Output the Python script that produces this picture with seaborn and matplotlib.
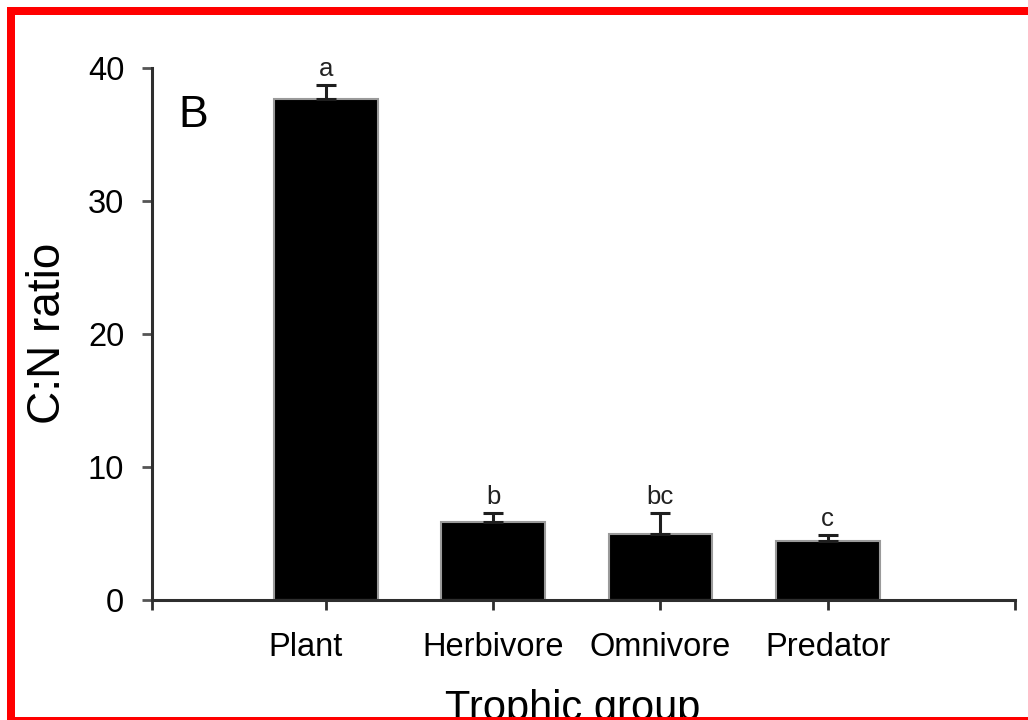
import numpy as np
import pandas as pd
import matplotlib
matplotlib.use("Agg")
import matplotlib.pyplot as plt
from matplotlib.patches import Rectangle
from matplotlib.transforms import ScaledTranslation
import seaborn as sns

# Carbon:nitrogen ratio by trophic group (mean and upper standard error)
groups = ["Plant", "Herbivore", "Omnivore", "Predator"]
cn_mean = [37.7, 5.8, 4.9, 4.4]
cn_se = [1.0, 0.7, 1.6, 0.45]
letters = ["a", "b", "bc", "c"]
y_ticks = [0, 10, 20, 30, 40]

sns.set_theme(style="ticks")
plt.rcParams["font.family"] = ["Liberation Sans", "DejaVu Sans"]

W, H = 1028, 720
fig = plt.figure(figsize=(W / 100, H / 100), dpi=100)
fig.patch.set_facecolor("white")

ax_left, ax_right, ax_bottom, ax_top = 152, 1015, 599.5, 68
ax = fig.add_axes([ax_left / W, 1 - ax_bottom / H,
                   (ax_right - ax_left) / W, (ax_bottom - ax_top) / H])
ax.set_facecolor("white")

df = pd.DataFrame({"group": groups, "cn": cn_mean})
sns.barplot(data=df, x="group", y="cn", order=groups, color="black",
            saturation=1, width=0.62, errorbar=None, ax=ax,
            edgecolor="#9a9a9a", linewidth=1.5, zorder=2)

pos = np.arange(len(groups))
ax.errorbar(pos, cn_mean, yerr=[np.zeros(len(groups)), cn_se], fmt="none",
            ecolor="#1e1e1e", elinewidth=2.2, capsize=7.5, capthick=2.2,
            zorder=3)

# Significance letters above each error bar
for x, m, s, lab in zip(pos, cn_mean, cn_se, letters):
    ax.annotate(lab, (x, m + s), xytext=(0, 3), textcoords="offset points",
                ha="center", va="bottom", fontsize=18.5, color="#222222")

ax.set_ylim(0, 40)
ax.set_yticks(y_ticks)
ax.set_xlim(-1.04, 4.12)
ax.set_xticks(pos)
ax.set_xticklabels(groups)
ax.set_xticks([-1.04, 4.12], minor=True)

for side in ["top", "right"]:
    ax.spines[side].set_visible(False)
for side in ["left", "bottom"]:
    ax.spines[side].set_linewidth(2.2)
    ax.spines[side].set_color("#2e2e2e")

ax.tick_params(axis="y", which="major", direction="out", length=7, width=2,
               color="#555555", pad=13, labelsize=23.5, labelcolor="black")
ax.tick_params(axis="x", which="major", direction="out", length=7.5, width=2,
               color="#2e2e2e", pad=16, labelsize=23.5, labelcolor="black")
ax.tick_params(axis="x", which="minor", direction="out", length=7.5, width=2,
               color="#2e2e2e")

# The first category label sits a little left of its tick
first = ax.get_xticklabels()[0]
first.set_transform(first.get_transform()
                    + ScaledTranslation(-0.2, 0, fig.dpi_scale_trans))

ax.set_ylabel("C:N ratio", fontsize=33, color="black", va="center")
ax.yaxis.set_label_coords(-0.1205, 0.5)
ax.set_xlabel("Trophic group", fontsize=30, color="black", va="top")
ax.xaxis.set_label_coords(0.488, -0.169)

ax.text(0.031, 0.889, "B", transform=ax.transAxes, fontsize=32,
        ha="left", va="baseline", color="black")

# Red frame around the panel
red = "#ff0000"
def px_rect(x0, y0, x1, y1):
    return Rectangle((x0 / W, 1 - y1 / H), (x1 - x0) / W, (y1 - y0) / H,
                     transform=fig.transFigure, facecolor=red,
                     edgecolor="none", zorder=20)

fig.add_artist(px_rect(7, 7, W, 15))
fig.add_artist(px_rect(7, 7, 15, H))
fig.add_artist(px_rect(7, 717, W, H))

fig.savefig("out.png", dpi=100, facecolor="white")
